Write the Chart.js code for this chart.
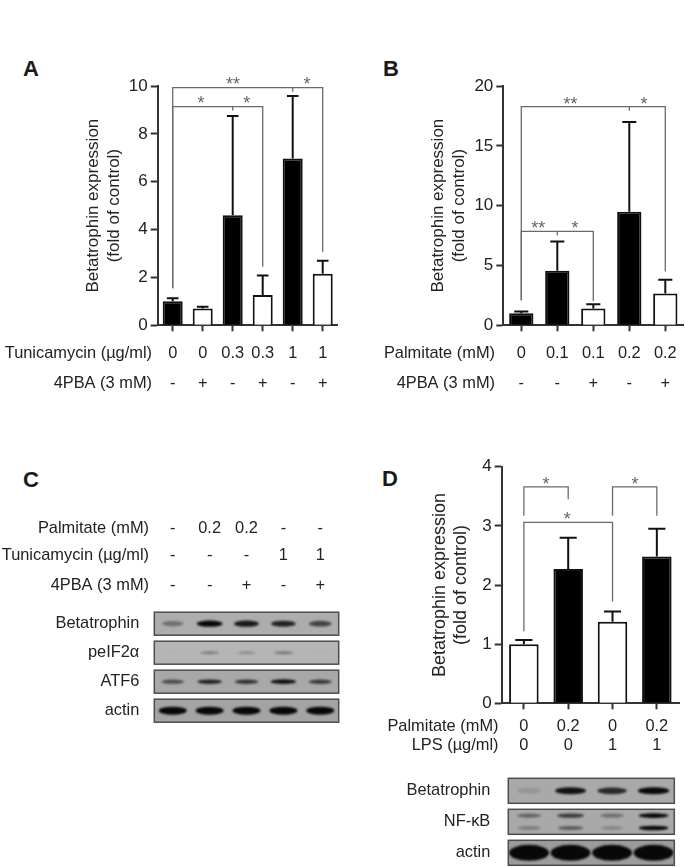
<!DOCTYPE html>
<html>
<head>
<meta charset="utf-8">
<script src="https://cdn.jsdelivr.net/npm/chart.js@4"></script>
<style>
  html, body { margin: 0; background: #fff; width: 685px; height: 867px; overflow: hidden; }
  canvas { position: absolute; left: 0; top: 0; filter: blur(0.35px); }
  .letter { position: absolute; font: bold 22px "Liberation Sans", Arial, sans-serif; color: #1a1a1a; line-height: 22px; }
</style>
</head>
<body>
<div class="letter" style="left:23px;top:58px">A</div>
<div class="letter" style="left:383px;top:58px">B</div>
<div class="letter" style="left:23px;top:469px">C</div>
<div class="letter" style="left:382px;top:468px">D</div>
<canvas id="chartA" width="685" height="867"></canvas>
<canvas id="chartB" width="685" height="867"></canvas>
<canvas id="chartD" width="685" height="867"></canvas>
<canvas id="blotC" width="685" height="867"></canvas>
<canvas id="blotD" width="685" height="890"></canvas>
<script>
// Panel A
const aTunicamycin = ['0', '0', '0.3', '0.3', '1', '1'];
const aPba = ['-', '+', '-', '+', '-', '+'];
const aMeans = [1.0, 0.7, 4.6, 1.27, 6.97, 2.15];
const aErrTops = [1.13, 0.77, 8.75, 2.08, 9.58, 2.7];
const aTicks = [0, 2, 4, 6, 8, 10];
// from, to, level, left leg end, right leg end, middle drop
const aBrackets = [[0, 5, 9.93, 1.55, 3.07, 4], [0, 3, 9.14, 1.55, 2.45, 2]];
const aStars = [['**', 2.01, 10.25], ['*', 4.48, 10.25], ['*', 0.94, 9.46], ['*', 2.47, 9.46]];

// Panel B
const bPalmitate = ['0', '0.1', '0.1', '0.2', '0.2'];
const bPba = ['-', '-', '+', '-', '+'];
const bMeans = [1.0, 4.55, 1.4, 9.5, 2.65];
const bErrTops = [1.15, 7.0, 1.75, 17.0, 3.8];
const bTicks = [0, 5, 10, 15, 20];
const bBrackets = [[0, 4, 18.27, 2.1, 4.5, 3], [0, 2, 7.85, 2.1, 2.0, 1]];
const bStars = [['**', 1.37, 18.9], ['*', 3.41, 18.9], ['**', 0.47, 8.46], ['*', 1.49, 8.46]];

// Panel C (blot)
const cPalmitate = ['-', '0.2', '0.2', '-', '-'];
const cTunicamycin = ['-', '-', '-', '1', '1'];
const cPba = ['-', '-', '+', '-', '+'];
const cBlotRows = ['Betatrophin', 'peIF2\u03b1', 'ATF6', 'actin'];
const cBetatrophin = [0.35, 0.95, 0.85, 0.8, 0.6];
const cPeif2a = [0.02, 0.3, 0.22, 0.35, 0.02];
const cAtf6 = [0.55, 0.8, 0.7, 0.9, 0.65];
const cActin = [1, 1, 1, 1, 1];

// Panel D
const dPalmitate = ['0', '0.2', '0', '0.2'];
const dLps = ['0', '0', '1', '1'];
const dMeans = [1.0, 2.27, 1.38, 2.48];
const dErrTops = [1.07, 2.8, 1.55, 2.95];
const dTicks = [0, 1, 2, 3, 4];
const dBrackets = [[0, 1, 3.66, 3.17, 3.45, null], [2, 3, 3.66, 3.17, 3.17, null], [0, 2, 3.06, 1.22, 1.72, null]];
const dStars = [['*', 0.5, 3.79], ['*', 2.51, 3.79], ['*', 0.98, 3.19]];
const dBlotRows = ['Betatrophin', 'NF-\u03baB', 'actin'];
const dBetatrophin = [0.12, 0.9, 0.75, 0.95];
const dNfkbUpper = [0.4, 0.65, 0.35, 1];
const dNfkbLower = [0.25, 0.45, 0.2, 0.95];
const dActin = [1, 1, 1, 1];

const FONT = '"Liberation Sans", Arial, sans-serif';
const INK = '#222';
const W = 685, H = 867;

function drawRows(chart, rows, headerRight, size) {
  const ctx = chart.ctx, x = chart.scales.x;
  ctx.save();
  ctx.font = size + 'px ' + FONT;
  ctx.fillStyle = INK;
  ctx.textBaseline = 'middle';
  rows.forEach(r => {
    ctx.textAlign = 'right';
    ctx.fillText(r.title, headerRight, r.y);
    ctx.textAlign = 'center';
    r.values.forEach((v, i) => ctx.fillText(v, x.getPixelForValue(i), r.y));
  });
  ctx.restore();
}

// bars + error bars + significance brackets
function barPanel(id, cfg) {
  const marks = {
    id: 'marks',
    afterDraw(chart) {
      const ctx = chart.ctx, x = chart.scales.x, y = chart.scales.y;
      const bars = chart.getDatasetMeta(0).data;
      ctx.save();
      ctx.strokeStyle = '#111';
      ctx.lineWidth = 2;
      bars.forEach((bar, i) => {
        const top = y.getPixelForValue(cfg.errTops[i]);
        const cap = bar.width * 0.29;
        ctx.beginPath();
        ctx.moveTo(bar.x, y.getPixelForValue(cfg.means[i]));
        ctx.lineTo(bar.x, top);
        ctx.moveTo(bar.x - cap, top);
        ctx.lineTo(bar.x + cap, top);
        ctx.stroke();
      });
      ctx.strokeStyle = '#6a6a6a';
      ctx.lineWidth = 1.3;
      cfg.brackets.forEach(([from, to, level, leftEnd, rightEnd, mid]) => {
        const l = x.getPixelForValue(from), r = x.getPixelForValue(to), t = y.getPixelForValue(level);
        ctx.beginPath();
        ctx.moveTo(l, y.getPixelForValue(leftEnd));
        ctx.lineTo(l, t);
        ctx.lineTo(r, t);
        ctx.lineTo(r, y.getPixelForValue(rightEnd));
        if (mid !== null) {
          ctx.moveTo(x.getPixelForValue(mid), t);
          ctx.lineTo(x.getPixelForValue(mid), t + 4);
        }
        ctx.stroke();
      });
      ctx.font = '18px ' + FONT;
      ctx.fillStyle = '#666';
      ctx.textAlign = 'center';
      ctx.textBaseline = 'alphabetic';
      cfg.stars.forEach(([s, sx, sy]) => ctx.fillText(s, x.getPixelForValue(sx), y.getPixelForValue(sy) + 10.4));
      ctx.restore();
      drawRows(chart, cfg.rows, cfg.headerRight, 16.4);
    }
  };

  return new Chart(document.getElementById(id), {
    type: 'bar',
    plugins: [marks],
    data: {
      labels: cfg.labels,
      datasets: [{
        data: cfg.means,
        backgroundColor: cfg.black.map(b => b ? '#000' : '#fff'),
        borderColor: '#111',
        borderWidth: 2,
        categoryPercentage: 1,
        barPercentage: cfg.barRatio
      }]
    },
    options: {
      responsive: false,
      animation: false,
      devicePixelRatio: 1,
      events: [],
      layout: { padding: { left: cfg.scaleLeft, top: cfg.area.top, right: W - cfg.area.right, bottom: H - cfg.area.bottom - 10 } },
      plugins: { legend: { display: false }, tooltip: { enabled: false } },
      scales: {
        x: {
          ticks: { display: false, autoSkip: false },
          grid: { offset: false, drawOnChartArea: false, tickLength: 6, tickWidth: 2, tickColor: '#333' },
          border: { color: '#333', width: 2 },
          afterFit: s => { s.height = 10; }
        },
        y: {
          min: 0,
          max: cfg.ticks[cfg.ticks.length - 1],
          afterBuildTicks: s => { s.ticks = cfg.ticks.map(v => ({ value: v })); },
          ticks: { font: { family: FONT, size: 17 }, color: INK, padding: 3 },
          grid: { drawOnChartArea: false, tickLength: 7, tickWidth: 2, tickColor: '#333' },
          border: { color: '#333', width: 2 },
          title: {
            display: true,
            text: ['Betatrophin expression', '(fold of control)'],
            font: { family: FONT, size: cfg.titleSize, lineHeight: cfg.titleLine / cfg.titleSize },
            color: INK,
            padding: 0
          },
          afterFit: s => {
            s.width = cfg.area.left - cfg.scaleLeft;
            s.paddingTop = 0;
            s.paddingBottom = 0;
          }
        }
      }
    }
  });
}

// western blot panel: each band is a dataset point, the plugin paints it at the scaled position
function blotPanel(id, cfg) {
  const paint = {
    id: 'bands',
    afterDatasetsDraw(chart) {
      const ctx = chart.ctx, x = chart.scales.x, y = chart.scales.y;
      const hw = chart.chartArea.width;
      cfg.names.forEach((name, row) => {
        const cy = y.getPixelForValue(row);
        const top = cy - cfg.boxH / 2;
        ctx.save();
        ctx.beginPath();
        ctx.rect(chart.chartArea.left, top, hw, cfg.boxH);
        ctx.clip();
        ctx.fillStyle = cfg.rowFill[row];
        ctx.fillRect(chart.chartArea.left, top, hw, cfg.boxH);
        chart.data.datasets.forEach((ds, di) => {
          if (ds.row !== row) return;
          chart.getDatasetMeta(di).data.forEach((pt, i) => {
            const v = ds.data[i].v;
            ctx.filter = 'blur(' + ds.blur + 'px)';
            ctx.fillStyle = 'rgba(8,8,8,' + Math.min(1, v * 1.05) + ')';
            ctx.beginPath();
            ctx.ellipse(pt.x, pt.y, ds.bandW * (0.7 + 0.3 * v), ds.bandH * (0.75 + 0.25 * v), 0, 0, Math.PI * 2);
            ctx.fill();
          });
        });
        ctx.restore();
        ctx.save();
        ctx.strokeStyle = '#4d4d4d';
        ctx.lineWidth = 1.5;
        ctx.strokeRect(chart.chartArea.left, top, hw, cfg.boxH);
        ctx.restore();
      });
      if (cfg.rows) drawRows(chart, cfg.rows, cfg.headerRight, 16.4);
    }
  };

  return new Chart(document.getElementById(id), {
    type: 'scatter',
    plugins: [paint],
    data: { datasets: cfg.bands },
    options: {
      responsive: false,
      animation: false,
      devicePixelRatio: 1,
      events: [],
      layout: { padding: { left: 0, top: cfg.area.top, right: W - cfg.area.right, bottom: cfg.canvasH - cfg.area.bottom } },
      plugins: { legend: { display: false }, tooltip: { enabled: false } },
      elements: { point: { radius: 0 } },
      scales: {
        x: { type: 'linear', display: false, min: -0.5, max: cfg.lanes - 0.5 },
        y: {
          type: 'linear',
          reverse: true,
          min: -0.5,
          max: cfg.names.length - 0.5,
          afterBuildTicks: s => { s.ticks = cfg.names.map((n, i) => ({ value: i })); },
          ticks: {
            autoSkip: false,
            callback: v => cfg.names[v],
            font: { family: FONT, size: 16.4 },
            color: INK,
            padding: cfg.labelGap
          },
          grid: { display: false },
          border: { display: false },
          afterFit: s => { s.width = cfg.area.left; s.paddingTop = 0; s.paddingBottom = 0; }
        }
      }
    }
  });
}

function bandSet(values, row, bandW, bandH, blur, shift) {
  return {
    row: row,
    bandW: bandW,
    bandH: bandH,
    blur: blur,
    data: values.map((v, i) => ({ x: i, y: row + (shift || 0), v: v }))
  };
}

barPanel('chartA', {
  labels: aTunicamycin, means: aMeans, errTops: aErrTops, ticks: aTicks,
  brackets: aBrackets, stars: aStars,
  black: aPba.map(p => p === '-'),
  barRatio: 20 / 30,
  scaleLeft: 82.5, titleSize: 17, titleLine: 21.5,
  area: { left: 157.7, top: 86, right: 337.7, bottom: 325.3 },
  headerRight: 152,
  rows: [{ y: 353, title: 'Tunicamycin (\u00b5g/ml)', values: aTunicamycin }, { y: 383, title: '4PBA (3 mM)', values: aPba }]
});

barPanel('chartB', {
  labels: bPalmitate, means: bMeans, errTops: bErrTops, ticks: bTicks,
  brackets: bBrackets, stars: bStars,
  black: bPba.map(p => p === '-'),
  barRatio: 24.3 / 36,
  scaleLeft: 427.5, titleSize: 17, titleLine: 21.5,
  area: { left: 503.3, top: 86, right: 683.3, bottom: 325.3 },
  headerRight: 495,
  rows: [{ y: 353, title: 'Palmitate (mM)', values: bPalmitate }, { y: 383, title: '4PBA (3 mM)', values: bPba }]
});

barPanel('chartD', {
  labels: dPalmitate, means: dMeans, errTops: dErrTops, ticks: dTicks,
  brackets: dBrackets, stars: dStars,
  black: [false, true, false, true],
  barRatio: 29.5 / 44.3,
  scaleLeft: 429.5, titleSize: 18, titleLine: 21,
  area: { left: 501.7, top: 466.7, right: 679, bottom: 703.3 },
  headerRight: 498.5,
  rows: [{ y: 726.7, title: 'Palmitate (mM)', values: dPalmitate }, { y: 745.7, title: 'LPS (\u00b5g/ml)', values: dLps }]
});

blotPanel('blotC', {
  names: cBlotRows, lanes: 5, boxH: 23, labelGap: 7, canvasH: 867,
  area: { left: 154.3, top: 609.2, right: 338.7, bottom: 725.2 },
  rowFill: ['#adadad', '#b5b5b5', '#a8a8a8', '#a4a4a4'],
  bands: [
    bandSet(cBetatrophin, 0, 13, 3.2, 1.2),
    bandSet(cPeif2a, 1, 12, 1.8, 1),
    bandSet(cAtf6, 2, 13, 2.4, 1),
    bandSet(cActin, 3, 14, 4, 0.9)
  ],
  headerRight: 149,
  rows: [
    { y: 528, title: 'Palmitate (mM)', values: cPalmitate },
    { y: 555, title: 'Tunicamycin (\u00b5g/ml)', values: cTunicamycin },
    { y: 585, title: '4PBA (3 mM)', values: cPba }
  ]
});

blotPanel('blotD', {
  names: dBlotRows, lanes: 4, boxH: 25, labelGap: 10, canvasH: 890,
  area: { left: 508.3, top: 775.3, right: 674.3, bottom: 868.3 },
  rowFill: ['#a9a9a9', '#a9a9a9', '#9c9c9c'],
  bands: [
    bandSet(dBetatrophin, 0, 16, 3.6, 1.2),
    bandSet(dNfkbUpper, 1, 15, 2.4, 1, -0.2),
    bandSet(dNfkbLower, 1, 15, 2.4, 1, 0.2),
    bandSet(dActin, 2, 20, 8, 1.2)
  ]
});
</script>
</body>
</html>
